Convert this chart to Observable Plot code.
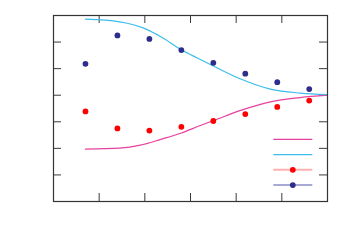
<!DOCTYPE html>
<html>
<head>
<meta charset="utf-8">
<script src="https://cdn.jsdelivr.net/npm/d3@7"></script>
<script src="https://cdn.jsdelivr.net/npm/@observablehq/plot@0.6"></script>
<style>
  html, body { margin: 0; padding: 0; background: #fff; }
  #wrap { position: relative; width: 349px; height: 247px; font-family: "DejaVu Sans", sans-serif; }
  #legend { position: absolute; left: 0; top: 0; pointer-events: none; }
</style>
</head>
<body>
<div id="wrap"></div>
<script>
// Measured points
const xPoints = [0.7, 1.4, 2.1, 2.8, 3.5, 4.2, 4.9, 5.6];
const bluePoints = [5.18, 6.25, 6.12, 5.70, 5.22, 4.81, 4.49, 4.23];
const redPoints = [3.39, 2.75, 2.67, 2.81, 3.03, 3.29, 3.56, 3.80];

// Fitted curves
const cyanX = [0.7, 1.45, 2.05, 2.35, 2.8, 3.15, 3.5, 4.1, 4.75, 5.4, 6.0];
const cyanY = [6.86, 6.76, 6.47, 6.20, 5.71, 5.40, 5.10, 4.61, 4.23, 4.08, 4.02];
const magentaX = [0.7, 1.45, 1.9, 2.35, 2.8, 3.2, 3.5, 4.1, 4.75, 5.4, 6.0];
const magentaY = [1.97, 2.01, 2.12, 2.34, 2.58, 2.85, 3.04, 3.43, 3.75, 3.91, 4.00];

// Axes
const xDomain = [0, 6];
const yDomain = [0, 7];
const xTicks = [1, 2, 3, 4, 5];
const yTicks = [1, 2, 3, 4, 5, 6];

// Legend (labels are blank in the reference)
const legendKinds = ["line", "line", "dot", "dot"];
const legendLineColors = ["#e8409e", "#3dbdec", "#ffb0b0", "#a9a9d6"];
const legendMarkColors = [null, null, "#ff0000", "#2d2d8c"];

const W = 349, H = 247;
const mL = 53, mR = 22, mT = 15, mB = 46;
const pw = W - mL - mR, ph = H - mT - mB;
const tick = 8;

const blue = xPoints.map((x, i) => ({x, y: bluePoints[i]}));
const red = xPoints.map((x, i) => ({x, y: redPoints[i]}));
const cyan = cyanX.map((x, i) => ({x, y: cyanY[i]}));
const magenta = magentaX.map((x, i) => ({x, y: magentaY[i]}));

const tickColor = "#3a3a3a";

const chart = Plot.plot({
  width: W,
  height: H,
  marginLeft: mL,
  marginRight: mR,
  marginTop: mT,
  marginBottom: mB,
  x: {domain: xDomain, axis: null},
  y: {domain: yDomain, axis: null},
  style: {background: "#fff"},
  marks: [
    Plot.tickX(xTicks, {x: d => d, insetTop: ph - tick, stroke: tickColor}),
    Plot.tickX(xTicks, {x: d => d, insetBottom: ph - tick, stroke: tickColor}),
    Plot.tickY(yTicks, {y: d => d, insetRight: pw - tick, stroke: tickColor}),
    Plot.tickY(yTicks, {y: d => d, insetLeft: pw - tick, stroke: tickColor}),
    Plot.line(magenta, {x: "x", y: "y", stroke: "#e8409e", strokeWidth: 1.2, curve: "monotone-x"}),
    Plot.line(cyan, {x: "x", y: "y", stroke: "#3dbdec", strokeWidth: 1.2, curve: "monotone-x"}),
    Plot.dot(red, {x: "x", y: "y", r: 2.9, fill: "#ff0000"}),
    Plot.dot(blue, {x: "x", y: "y", r: 2.9, fill: "#2d2d8c"}),
    Plot.frame({stroke: "#333", strokeWidth: 1.2})
  ]
});

const wrap = document.getElementById("wrap");
wrap.appendChild(chart);

// Legend overlay
const lx1 = 273.3, lx2 = 312.3, ly0 = 139.3, lstep = 15.25;
const svg = d3.select(wrap).append("svg")
  .attr("id", "legend").attr("width", W).attr("height", H);
legendKinds.forEach((k, i) => {
  const y = ly0 + i * lstep;
  svg.append("line")
    .attr("x1", lx1).attr("x2", lx2).attr("y1", y).attr("y2", y)
    .attr("stroke", legendLineColors[i])
    .attr("stroke-width", k === "dot" ? 2 : 1.2);
  if (k === "dot") {
    svg.append("circle")
      .attr("cx", (lx1 + lx2) / 2).attr("cy", y).attr("r", 2.9)
      .attr("fill", legendMarkColors[i]);
  }
});
</script>
</body>
</html>
